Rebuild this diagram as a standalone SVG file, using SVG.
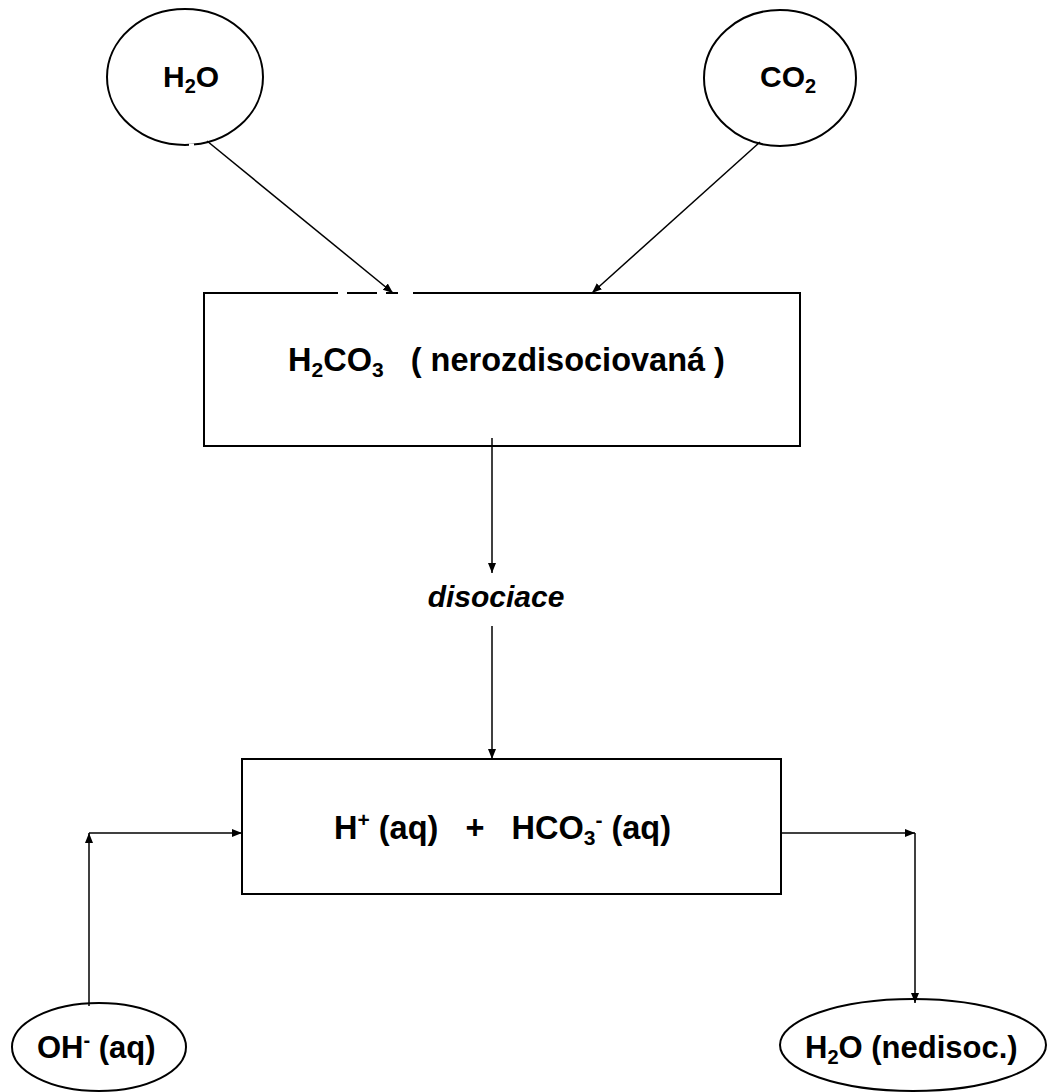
<svg xmlns="http://www.w3.org/2000/svg" width="1051" height="1092" viewBox="0 0 1051 1092">
<defs>
<style>
.shape{fill:none;stroke:#000;stroke-width:2}
.conn{fill:none;stroke:#000;stroke-width:1.5}
.lbl{font-family:"Liberation Sans",Arial,sans-serif;font-weight:bold;font-size:30px;fill:#000;white-space:pre}
.big{font-size:32.5px}
.mid{font-size:31px}
.it{font-style:italic}
.gap{stroke:#fff;stroke-width:3}
</style>
<marker id="ah" viewBox="0 0 10 10" refX="10" refY="5" markerWidth="10" markerHeight="10" markerUnits="userSpaceOnUse" orient="auto">
<path d="M0,1 L10,5 L0,9 z" fill="#000"/>
</marker>
</defs>
<rect width="1051" height="1092" fill="#fff"/>

<g id="connectors">
<line class="conn" x1="207" y1="141" x2="393" y2="293" marker-end="url(#ah)"/>
<line class="conn" x1="760" y1="142" x2="592" y2="293" marker-end="url(#ah)"/>
<line class="conn" x1="492" y1="438" x2="492" y2="573" marker-end="url(#ah)"/>
<line class="conn" x1="492" y1="626" x2="492" y2="759" marker-end="url(#ah)"/>
<line class="conn" x1="89" y1="1006" x2="89" y2="833" marker-end="url(#ah)"/>
<line class="conn" x1="89" y1="833" x2="242" y2="833" marker-end="url(#ah)"/>
<line class="conn" x1="781" y1="833" x2="915" y2="833" marker-end="url(#ah)"/>
<line class="conn" x1="915" y1="833" x2="915" y2="1003" marker-end="url(#ah)"/>
</g>

<g id="node-h2o">
<ellipse class="shape" cx="185" cy="77" rx="78" ry="68"/>
<text class="lbl" x="163" y="87">H<tspan font-size="20" dy="6">2</tspan><tspan dy="-6">O</tspan></text>
</g>

<g id="node-co2">
<ellipse class="shape" cx="780" cy="78" rx="76" ry="68"/>
<text class="lbl" x="760" y="87">CO<tspan font-size="20" dy="6">2</tspan></text>
</g>

<g id="node-h2co3">
<rect class="shape" x="204" y="293" width="596" height="153"/>
<text class="lbl big" x="288" y="371">H<tspan font-size="21" dy="6">2</tspan><tspan dy="-6">CO</tspan><tspan font-size="21" dy="6">3</tspan><tspan dy="-6">   ( nerozdisociovaná )</tspan></text>
</g>

<g id="node-disociace">
<text class="lbl it" x="496" y="607" text-anchor="middle">disociace</text>
</g>

<g id="node-ions">
<rect class="shape" x="242" y="759" width="539" height="135"/>
<text class="lbl big" x="334" y="839">H<tspan font-size="21" dy="-12">+</tspan><tspan dy="12"> (aq)   +   HCO</tspan><tspan font-size="21" dy="6">3</tspan><tspan font-size="21" dy="-18">-</tspan><tspan dy="12"> (aq)</tspan></text>
</g>

<g id="node-oh">
<ellipse class="shape" cx="99" cy="1047" rx="87" ry="44"/>
<text class="lbl mid" x="37" y="1058">OH<tspan font-size="20" dy="-11">-</tspan><tspan dy="11"> (aq)</tspan></text>
</g>

<g id="node-h2o-nedisoc">
<ellipse class="shape" cx="913" cy="1045" rx="133" ry="46"/>
<text class="lbl mid" x="805" y="1058">H<tspan font-size="20" dy="6">2</tspan><tspan dy="-6">O (nedisoc.)</tspan></text>
</g>

<g id="gaps">
<line class="gap" x1="189" y1="145" x2="194" y2="145"/>
<line class="gap" x1="230" y1="139" x2="233" y2="137"/>
<line class="gap" x1="338" y1="293" x2="347" y2="293"/>
<line class="gap" x1="377" y1="293" x2="386" y2="293"/>
<line class="gap" x1="398" y1="293" x2="413" y2="293"/>
</g>
</svg>
